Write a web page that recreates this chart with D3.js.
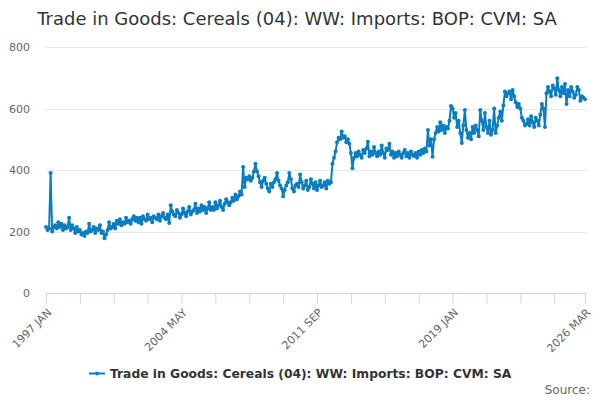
<!DOCTYPE html>
<html>
<head>
<meta charset="utf-8">
<script src="https://cdn.jsdelivr.net/npm/d3@7"></script>
<style>
    body { margin: 0; background: #fff; }
    svg { font-family: "DejaVu Sans", sans-serif; }
</style>
</head>
<body>
<script>
//chart text
var title = "Trade in Goods: Cereals (04): WW: Imports: BOP: CVM: SA";
var seriesName = "Trade in Goods: Cereals (04): WW: Imports: BOP: CVM: SA";

//month names used for category labels
var monthNames = ["JAN", "FEB", "MAR", "APR", "MAY", "JUN", "JUL", "AUG", "SEP", "OCT", "NOV", "DEC"];
var firstYear = 1997;

//monthly values, one row per year
var values1997 = [215, 205, 210, 390, 200, 215, 220, 210, 230, 215, 225, 205];
var values1998 = [220, 210, 215, 245, 205, 220, 210, 195, 215, 200, 205, 190];
var values1999 = [195, 185, 200, 195, 225, 200, 205, 215, 195, 210, 205, 220];
var values2000 = [195, 200, 178, 190, 205, 230, 210, 215, 225, 210, 235, 225];
var values2001 = [240, 220, 230, 225, 245, 230, 235, 225, 240, 250, 235, 245];
var values2002 = [230, 245, 225, 250, 240, 235, 255, 240, 245, 230, 250, 245];
var values2003 = [240, 255, 235, 250, 260, 245, 240, 255, 228, 285, 265, 255];
var values2004 = [250, 270, 260, 245, 255, 275, 260, 250, 265, 280, 255, 265];
var values2005 = [270, 290, 260, 275, 265, 285, 270, 280, 260, 275, 295, 270];
var values2006 = [280, 270, 295, 275, 285, 300, 280, 270, 290, 305, 295, 285];
var values2007 = [295, 310, 300, 320, 305, 315, 330, 320, 410, 345, 375, 370];
var values2008 = [380, 365, 375, 395, 420, 395, 380, 360, 345, 365, 375, 355];
var values2009 = [340, 330, 355, 345, 360, 370, 390, 365, 350, 340, 315, 335];
var values2010 = [350, 360, 390, 370, 340, 330, 350, 355, 345, 385, 360, 340];
var values2011 = [350, 365, 335, 345, 370, 355, 340, 360, 335, 350, 365, 345];
var values2012 = [350, 360, 340, 365, 355, 360, 420, 440, 460, 490, 505, 500];
var values2013 = [525, 505, 510, 490, 500, 485, 455, 406, 440, 455, 445, 460];
var values2014 = [450, 440, 465, 455, 470, 492, 445, 460, 450, 475, 455, 445];
var values2015 = [460, 450, 480, 455, 440, 470, 465, 485, 450, 460, 440, 455];
var values2016 = [445, 460, 450, 440, 455, 465, 445, 455, 440, 460, 450, 445];
var values2017 = [455, 440, 460, 450, 465, 455, 470, 460, 530, 480, 500, 443];
var values2018 = [500, 520, 540, 525, 555, 530, 545, 520, 540, 535, 560, 608];
var values2019 = [600, 570, 585, 540, 560, 520, 488, 545, 595, 530, 505, 520];
var values2020 = [500, 540, 520, 545, 530, 510, 595, 560, 530, 585, 540, 520];
var values2021 = [560, 515, 530, 600, 520, 545, 570, 590, 560, 610, 655, 640];
var values2022 = [650, 655, 630, 660, 640, 620, 605, 615, 600, 570, 560, 545];
var values2023 = [550, 565, 545, 575, 555, 540, 570, 560, 545, 580, 615, 600];
var values2024 = [540, 650, 670, 655, 640, 675, 665, 645, 698, 660, 640, 670];
var values2025 = [650, 680, 615, 660, 640, 670, 655, 635, 645, 670, 660, 625];
var values2026 = [640, 635, 630];

//y axis ticks
var yTicks = [0, 200, 400, 600, 800];

window.onload = function () {
    var w = 600, h = 400;
    var margin = { top: 47, right: 15, bottom: 107, left: 46 };

    //join the yearly rows into one monthly series
    var rows = [values1997, values1998, values1999, values2000, values2001, values2002,
        values2003, values2004, values2005, values2006, values2007, values2008,
        values2009, values2010, values2011, values2012, values2013, values2014,
        values2015, values2016, values2017, values2018, values2019, values2020,
        values2021, values2022, values2023, values2024, values2025, values2026];
    var data = [];
    rows.forEach(function (row, yi) {
        row.forEach(function (v, mi) {
            data.push({ label: (firstYear + yi) + " " + monthNames[mi], value: v });
        });
    });
    var n = data.length;

    var svg = d3.select("body")
        .append("svg")
        .attr("width", w)
        .attr("height", h);

    //category positions on x, value scale on y
    var x = d3.scaleLinear()
        .domain([0, n - 1])
        .range([margin.left, w - margin.right]);
    var y = d3.scaleLinear()
        .domain([0, 800])
        .range([h - margin.bottom, margin.top]);

    //title
    svg.append("text")
        .attr("x", 297)
        .attr("y", 25)
        .attr("text-anchor", "middle")
        .style("font-size", "18px")
        .style("fill", "#333333")
        .text(title);

    //horizontal gridlines
    svg.append("g")
        .selectAll("line")
        .data(yTicks.filter(function (d) { return d > 0; }))
        .enter()
        .append("line")
        .attr("x1", margin.left)
        .attr("x2", w - margin.right + 1)
        .attr("y1", function (d) { return Math.round(y(d)) + 0.5; })
        .attr("y2", function (d) { return Math.round(y(d)) + 0.5; })
        .style("stroke", "#e6e6e6");

    //y axis labels
    var yAxis = d3.axisLeft(y)
        .tickValues(yTicks)
        .tickSize(0)
        .tickPadding(16);
    var yG = svg.append("g")
        .attr("transform", "translate(" + margin.left + ",0)")
        .call(yAxis);
    yG.select(".domain").remove();
    yG.selectAll("text")
        .style("font-size", "11px")
        .style("fill", "#666666")
        .style("font-family", "'DejaVu Sans', sans-serif");

    //x axis: ticks every 22 months, labels every 88 plus the last one
    var tickIdx = d3.range(0, n, 22);
    var labelIdx = [0, 88, 176, 264, n - 1];
    var xAxis = d3.axisBottom(x)
        .tickValues(tickIdx.concat([n - 1]))
        .tickSize(10)
        .tickFormat(function (i) {
            return labelIdx.indexOf(i) >= 0 ? data[i].label : "";
        });
    var xG = svg.append("g")
        .attr("transform", "translate(0," + (Math.round(y(0)) + 0.5) + ")")
        .call(xAxis);
    xG.select(".domain")
        .attr("d", "M" + margin.left + ",0H" + (w - margin.right + 1))
        .style("stroke", "#ccd6eb");
    xG.selectAll(".tick line").style("stroke", "#ccd6eb");
    xG.selectAll(".tick text")
        .style("font-size", "11px")
        .style("fill", "#666666")
        .style("font-family", "'DejaVu Sans', sans-serif")
        .attr("text-anchor", "end")
        .attr("y", 0)
        .attr("dy", "0.35em")
        .attr("transform", "translate(3,17) rotate(-45)");

    //series line and markers
    var color = "#0a7dc2";
    var line = d3.line()
        .x(function (d, i) { return x(i); })
        .y(function (d) { return y(d.value); });
    svg.append("path")
        .datum(data)
        .attr("d", line)
        .style("fill", "none")
        .style("stroke", color)
        .style("stroke-width", 2)
        .style("stroke-linejoin", "round");
    svg.append("g")
        .selectAll("circle")
        .data(data)
        .enter()
        .append("circle")
        .attr("cx", function (d, i) { return x(i); })
        .attr("cy", function (d) { return y(d.value); })
        .attr("r", 2)
        .style("fill", color);

    //legend
    var legend = svg.append("g").attr("transform", "translate(89,378)");
    legend.append("line")
        .attr("x1", 0).attr("x2", 16)
        .attr("y1", -4.5).attr("y2", -4.5)
        .style("stroke", color)
        .style("stroke-width", 2);
    legend.append("circle")
        .attr("cx", 8).attr("cy", -4.5).attr("r", 2)
        .style("fill", color);
    legend.append("text")
        .attr("x", 21)
        .attr("y", 0)
        .style("font-size", "12.3px")
        .style("font-weight", "bold")
        .style("fill", "#333333")
        .text(seriesName);

    //source credit
    svg.append("text")
        .attr("x", 590)
        .attr("y", 394)
        .attr("text-anchor", "end")
        .style("font-size", "12px")
        .style("fill", "#666666")
        .text("Source:");
};
</script>
</body>
</html>
